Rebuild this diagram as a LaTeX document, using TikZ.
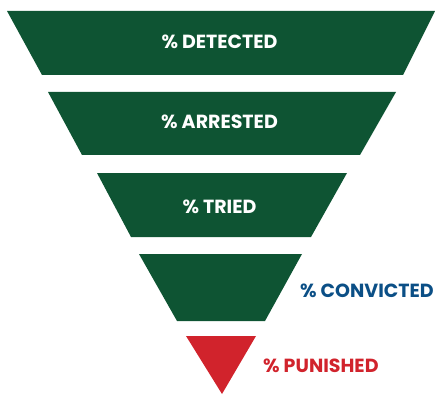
\documentclass[tikz,border=0pt]{standalone}
\usepackage{fontspec}
\setmainfont{Poppins}
\definecolor{fgreen}{HTML}{0E5433}
\definecolor{fblue}{HTML}{0B4F86}
\definecolor{fred}{HTML}{D1232C}
\begin{document}
\begin{tikzpicture}[x=1pt,y=-1pt,
  stage/.style={fill=fgreen,draw=none},
  lbl/.style={font=\fontsize{19}{21}\selectfont\bfseries,inner sep=0pt,anchor=center}]
\useasboundingbox (0,0) rectangle (435,395);
\fill[stage] (7,11) -- (435,11) -- (403,75) -- (42,75) -- cycle;
\fill[stage] (48,92) -- (396,92) -- (360,155) -- (82,155) -- cycle;
\fill[stage] (97,173) -- (347,173) -- (311,237) -- (131,237) -- cycle;
\fill[stage] (139,254) -- (302,254) -- (265,321) -- (177,321) -- cycle;
\fill[fred] (186,336) -- (256,336) -- (222,394) -- cycle;
\node[lbl,text=white] (det) at (219.5,42) {\% DETECTED};
\node[lbl,text=white] (arr) at (219.5,122) {\% ARRESTED};
\node[lbl,text=white] (tri) at (219.5,207) {\% TRIED};
\node[lbl,text=fblue,anchor=west] (con) at (300,291) {\% CONVICTED};
\node[lbl,text=fred,anchor=west] (pun) at (263,366) {\% PUNISHED};
\end{tikzpicture}
\end{document}
